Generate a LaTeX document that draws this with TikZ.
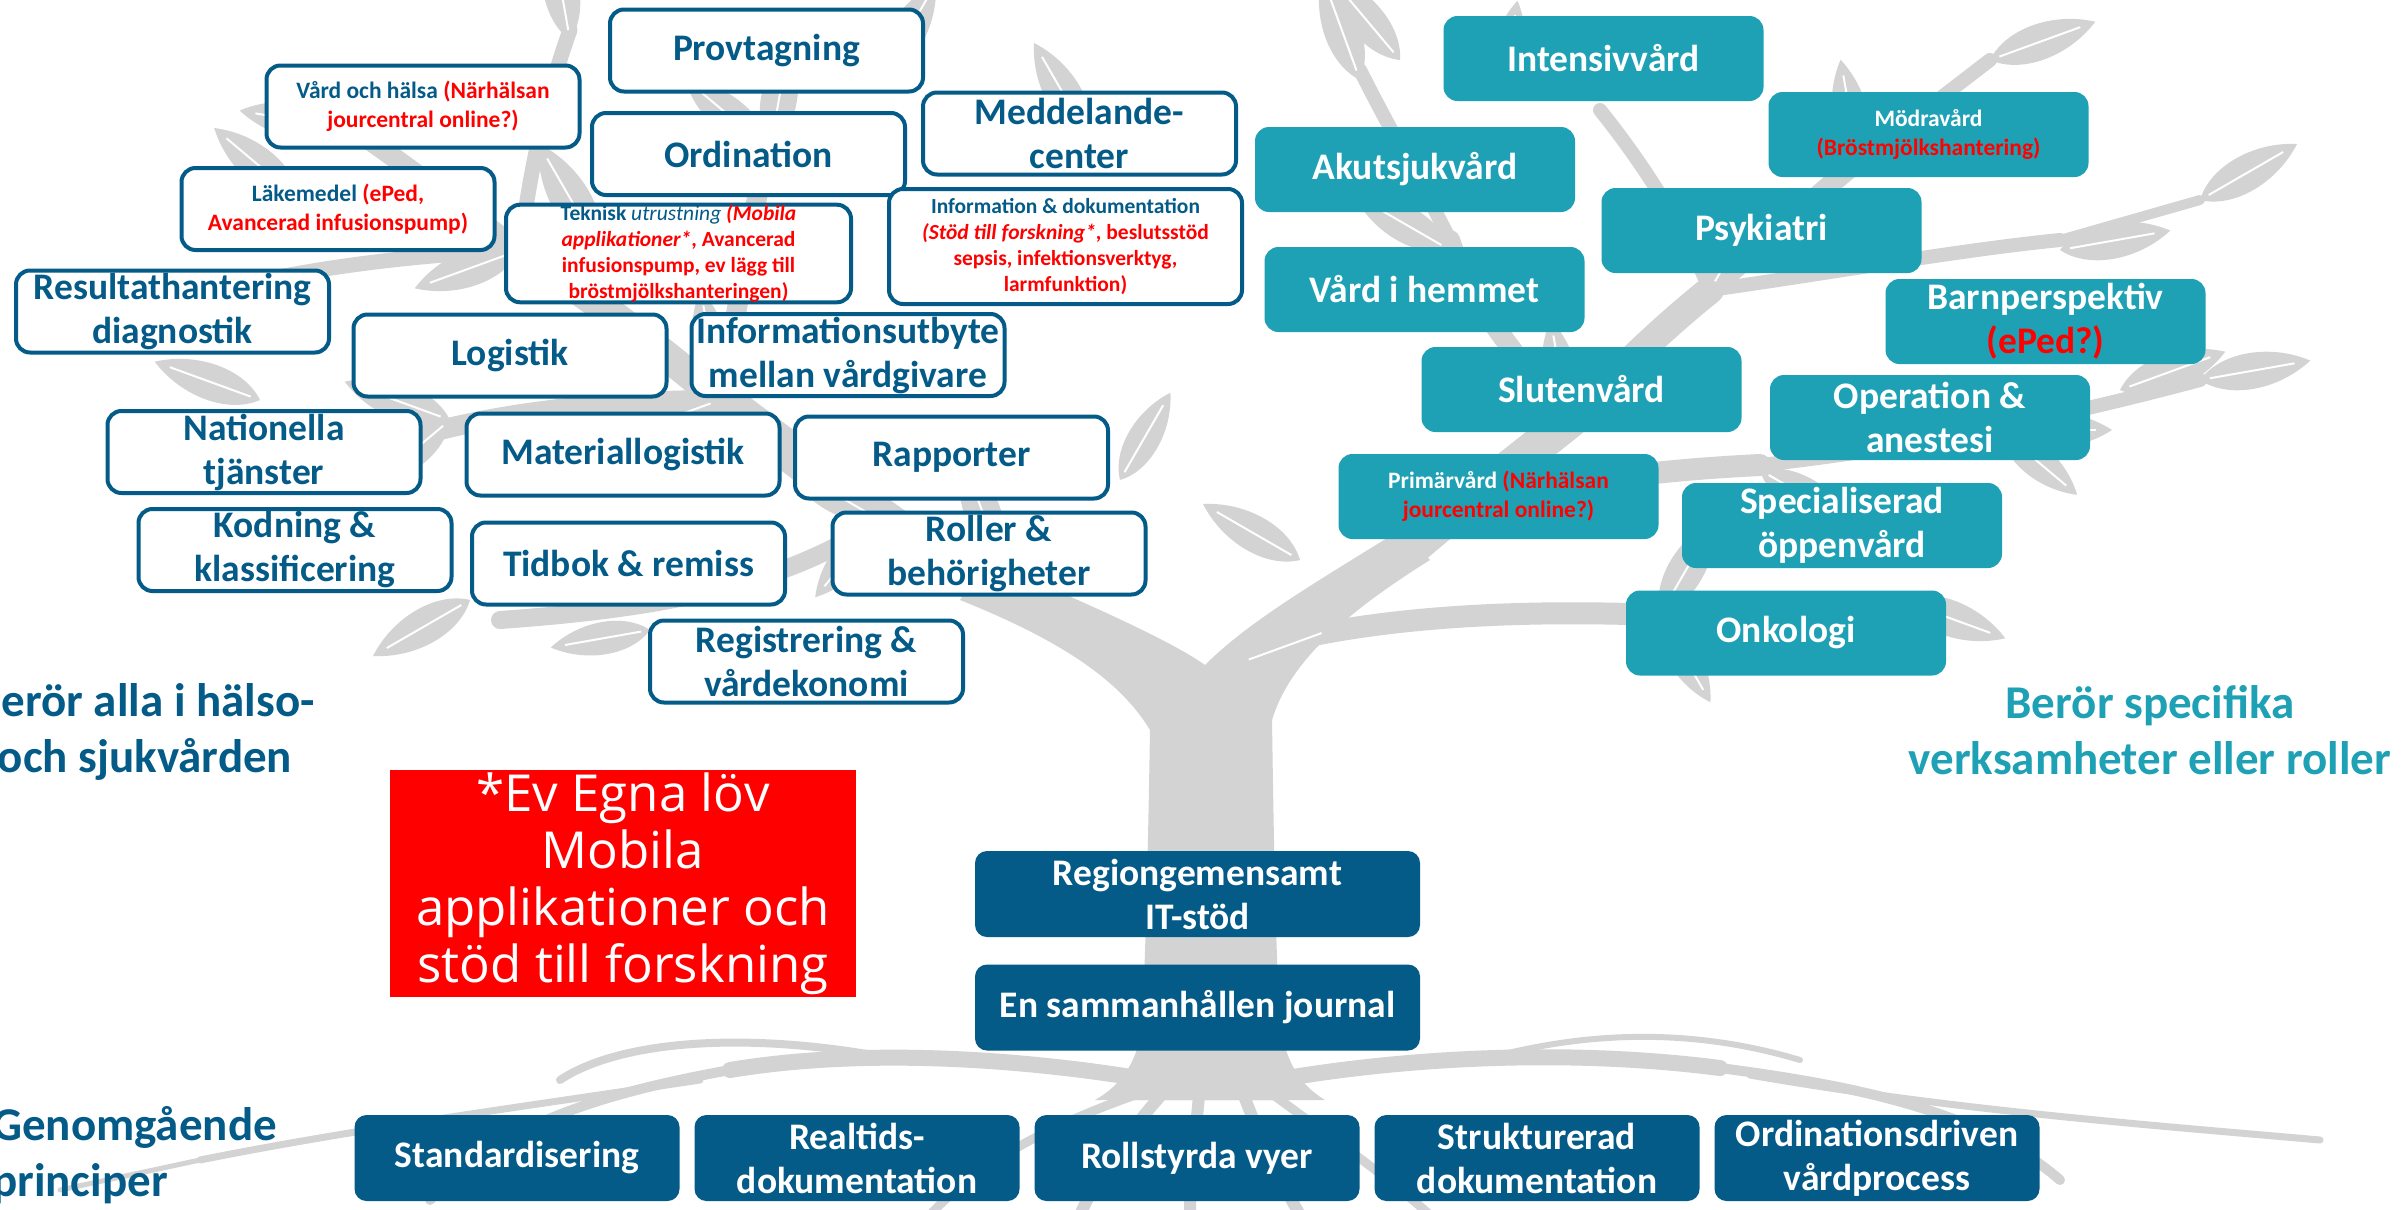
\documentclass[tikz,border=0pt]{standalone}
\usepackage{fontspec}
\setmainfont{Carlito}
\newfontfamily\lovfont{Open Sans}
\definecolor{rootblue}{HTML}{045B88}
\definecolor{bladteal}{HTML}{1FA1B5}
\definecolor{treegray}{HTML}{D3D3D3}

\begin{document}
\begin{tikzpicture}[x=1pt,y=-1pt]
      \tikzstyle{stam}=[draw=treegray,line cap=round,line join=round]
      \tikzstyle{gemensam}=[draw=rootblue,line width=4pt,fill=white,rounded corners=14pt,minimum width=313pt,minimum height=82pt,inner sep=0pt,align=center,text=rootblue,font=\bfseries\fontsize{37.5}{44}\selectfont]
      \tikzstyle{liten}=[font=\bfseries\fontsize{23.5}{29}\selectfont]
      \tikzstyle{minst}=[font=\bfseries\fontsize{21.5}{26}\selectfont]
      \tikzstyle{specifik}=[fill=bladteal,rounded corners=14pt,minimum width=320pt,minimum height=85pt,inner sep=0pt,align=center,text=white,font=\bfseries\fontsize{37.5}{44}\selectfont]
      \tikzstyle{princip}=[fill=rootblue,rounded corners=12pt,minimum width=325pt,minimum height=86pt,inner sep=0pt,align=center,text=white,font=\bfseries\fontsize{37.5}{44}\selectfont]
      \tikzstyle{rubrik}=[align=center,font=\bfseries\fontsize{47}{56}\selectfont]
      \tikzset{leaf/.pic={
        \fill[treegray] (0,0) .. controls (25,-24) and (75,-24) .. (112,0) .. controls (75,24) and (25,24) .. (0,0);
        \draw[white,line width=2pt] (10,0) -- (96,0);}}
      \useasboundingbox (0,0) rectangle (2407,1210);
      \fill[white] (0,0) rectangle (2407,1210);
      % tree: trunk and branches
      \fill[treegray] (1138,1100) .. controls (1145,1000) and (1148,850) .. (1150,730)
        .. controls (1120,680) and (1060,640) .. (960,600) -- (985,560)
        .. controls (1080,600) and (1170,640) .. (1205,665)
        .. controls (1250,620) and (1320,580) .. (1400,530) -- (1430,560)
        .. controls (1350,610) and (1290,660) .. (1272,720)
        .. controls (1274,850) and (1276,1000) .. (1285,1100) -- cycle;
      \fill[treegray] (1095,1100) .. controls (1130,1080) and (1142,1050) .. (1146,1000) -- (1276,1000)
        .. controls (1282,1050) and (1292,1080) .. (1325,1100) -- cycle;
      \draw[stam,line width=40pt] (972,580) .. controls (880,520) and (800,460) .. (720,400);
      \draw[stam,line width=30pt] (720,400) .. controls (650,340) and (580,290) .. (520,250);
      \draw[stam,line width=20pt] (520,250) .. controls (450,200) and (400,160) .. (340,120);
      \draw[stam,line width=20pt] (720,400) .. controls (620,400) and (520,410) .. (440,430);
      \draw[stam,line width=20pt] (720,400) .. controls (740,300) and (750,220) .. (770,140);
      \draw[stam,line width=15pt] (520,250) .. controls (420,255) and (330,265) .. (240,285);
      \draw[stam,line width=15pt] (520,250) .. controls (530,170) and (545,100) .. (570,30);
      \draw[stam,line width=18pt] (880,520) .. controls (780,590) and (640,610) .. (500,620);
      \draw[stam,line width=36pt] (1415,545) .. controls (1480,490) and (1520,460) .. (1570,420);
      \draw[stam,line width=28pt] (1570,420) .. controls (1620,370) and (1660,330) .. (1710,290);
      \draw[stam,line width=20pt] (1710,290) .. controls (1770,240) and (1810,200) .. (1860,160);
      \draw[stam,line width=14pt] (1860,160) -- (1990,60);
      \draw[stam,line width=22pt] (1290,640) .. controls (1400,615) and (1530,610) .. (1660,615);
      \draw[stam,line width=14pt] (1660,615) -- (1900,600);
      \draw[stam,line width=22pt] (1460,510) .. controls (1570,480) and (1660,470) .. (1760,465);
      \draw[stam,line width=14pt] (1760,465) .. controls (1900,450) and (2050,420) .. (2200,380);
      \draw[stam,line width=20pt] (1570,420) .. controls (1510,350) and (1470,300) .. (1450,240);
      \draw[stam,line width=14pt] (1450,240) .. controls (1420,180) and (1390,130) .. (1360,70);
      \draw[stam,line width=14pt] (1710,290) .. controls (1850,270) and (1960,250) .. (2060,240);
      \draw[stam,line width=10pt] (2060,240) -- (2200,200);
      \draw[stam,line width=14pt] (1710,290) .. controls (1680,220) and (1640,160) .. (1600,110);
      % leaves
      \foreach \lx/\ly/\la/\ls in {600/250/120/1.1, 520/250/200/1, 720/400/100/1, 720/400/200/1,
          450/420/160/1, 450/420/220/0.9, 300/200/140/1, 250/280/190/1, 770/150/80/1, 770/150/140/1,
          570/40/100/1, 880/520/150/1, 880/520/230/0.9, 1000/560/110/1, 350/130/170/1, 1090/140/120/1,
          260/400/160/1, 1120/480/60/0.9, 880/80/60/1, 470/600/210/1, 650/630/190/0.9, 1020/500/60/0.8,
          1400/60/130/1, 1500/100/80/0.9, 1710/290/60/1, 1860/170/30/1, 1860/170/100/1, 1990/60/20/1,
          2060/250/10/1, 2200/200/30/1, 2000/430/0/1, 2120/390/20/1, 2000/430/-40/0.9, 1900/600/-20/1,
          1660/615/60/1, 1660/615/-60/0.9, 1450/250/150/1, 1360/80/110/1, 1760/470/-30/1, 1570/430/100/1,
          1300/560/150/1, 1330/630/200/0.9, 2200/380/10/1}
        \pic[rotate=\la,scale=\ls] at (\lx,\ly) {leaf};
      % roots
      \draw[stam,line width=16pt] (1150,1080) .. controls (1000,1055) and (850,1050) .. (730,1070);
      \draw[stam,line width=10pt] (730,1070) .. controls (620,1090) and (500,1120) .. (430,1200);
      \draw[stam,line width=8pt] (900,1060) .. controls (750,1030) and (620,1040) .. (560,1080);
      \draw[stam,line width=7pt] (700,1080) .. controls (500,1110) and (350,1130) .. (200,1160);
      \draw[stam,line width=5pt] (200,1160) -- (60,1190);
      \draw[stam,line width=16pt] (1275,1080) .. controls (1420,1055) and (1580,1050) .. (1720,1068);
      \draw[stam,line width=10pt] (1720,1068) .. controls (1850,1085) and (1980,1110) .. (2060,1180);
      \draw[stam,line width=7pt] (1750,1075) .. controls (1950,1110) and (2150,1125) .. (2320,1140);
      \draw[stam,line width=6pt] (1500,1055) .. controls (1600,1030) and (1700,1030) .. (1800,1060);
      \draw[stam,line width=12pt] (1170,1085) .. controls (1130,1130) and (1100,1170) .. (1080,1215);
      \draw[stam,line width=12pt] (1200,1085) .. controls (1195,1140) and (1190,1180) .. (1190,1215);
      \draw[stam,line width=12pt] (1240,1085) .. controls (1260,1140) and (1280,1180) .. (1300,1215);
      \draw[stam,line width=9pt] (1260,1085) .. controls (1320,1130) and (1380,1170) .. (1430,1215);
      \draw[stam,line width=9pt] (1150,1090) .. controls (1060,1120) and (980,1160) .. (930,1215);
      % title cut at the top
      \node[anchor=base west,inner sep=0pt,font=\fontsize{55}{60}\selectfont] (topp) at (361,-10) {pp};
      % berör alla
      \node[gemensam] (prov) at (766.5,50.5) {Provtagning};
      \node[gemensam,liten] (vard) at (423,106.5) {Vård och hälsa \textcolor{red}{(Närhälsan}\\\textcolor{red}{jourcentral online?)}};
      \node[gemensam] (ord) at (748.5,154) {Ordination};
      \node[gemensam] (medd) at (1079.5,133.5) {Meddelande-\\center};
      \node[gemensam,liten] (lak) at (338,209) {Läkemedel \textcolor{red}{(ePed,}\\\textcolor{red}{Avancerad infusionspump)}};
      \node[gemensam,minst,minimum width=345pt,minimum height=95pt] (tekn) at (678.5,253.5)
        {Teknisk \textmd{\itshape utrustning} \textcolor{red}{\itshape (Mobila}\\\textcolor{red}{{\itshape applikationer*}, Avancerad}\\\textcolor{red}{infusionspump, ev lägg till}\\\textcolor{red}{bröstmjölkshanteringen)}};
      \node[gemensam,minst,minimum width=353pt,minimum height=115pt] (info) at (1065.5,246.5)
        {Information \& dokumentation\\\textcolor{red}{{\itshape (Stöd till forskning*}, beslutsstöd}\\\textcolor{red}{sepsis, infektionsverktyg,}\\\textcolor{red}{larmfunktion)}};
      \node[gemensam] (res) at (172.5,311.5) {Resultathantering\\diagnostik};
      \node[gemensam] (logi) at (510,355.5) {Logistik};
      \node[gemensam] (utby) at (848,355) {Informationsutbyte\\mellan vårdgivare};
      \node[gemensam] (nat) at (264,452) {Nationella\\tjänster};
      \node[gemensam] (mat) at (623,454.5) {Materiallogistik};
      \node[gemensam] (rapp) at (951.5,457.5) {Rapporter};
      \node[gemensam] (kod) at (295,550) {Kodning \&\\klassificering};
      \node[gemensam] (tid) at (628.5,563.5) {Tidbok \& remiss};
      \node[gemensam] (roll) at (989,553.5) {Roller \&\\behörigheter};
      \node[gemensam] (reg) at (806.5,661.5) {Registrering \&\\vårdekonomi};
      % berör specifika
      \node[specifik] (int) at (1603.5,58.5) {Intensivvård};
      \node[specifik,liten] (mod) at (1928.5,134.5) {Mödravård\\\textcolor{red}{(Bröstmjölkshantering)}};
      \node[specifik] (aku) at (1415,169.5) {Akutsjukvård};
      \node[specifik] (psy) at (1761.5,230.5) {Psykiatri};
      \node[specifik] (hem) at (1424.5,289.5) {Vård i hemmet};
      \node[specifik] (barn) at (2045.5,321.5) {Barnperspektiv\\\textcolor{red}{(ePed?)}};
      \node[specifik] (slu) at (1581.5,389.5) {Slutenvård};
      \node[specifik] (ope) at (1930,417.5) {Operation \&\\anestesi};
      \node[specifik,liten] (pri) at (1498.5,496.5) {Primärvård \textcolor{red}{(Närhälsan}\\\textcolor{red}{jourcentral online?)}};
      \node[specifik] (spe) at (1842,525.5) {Specialiserad\\öppenvård};
      \node[specifik] (onk) at (1786,633) {Onkologi};
      % headings
      \node[rubrik,text=rootblue] (alla) at (145,732) {Berör alla i hälso-\\och sjukvården};
      \node[rubrik,text=bladteal] (spec) at (2150,730) {Berör specifika\\verksamheter eller roller};
      \node[rubrik,text=rootblue,align=left,anchor=west,inner sep=0pt] (genom) at (-8,1155) {Genomgående\\principer};
      % egna löv
      \node[fill=red,minimum width=466pt,minimum height=227pt,inner sep=0pt,align=center,text=white,
        font=\lovfont\fontsize{51}{57}\selectfont] (lov) at (623,883.5) {*Ev Egna löv\\Mobila\\applikationer och\\stöd till forskning};
      % roots: it-stöd and principles
      \node[princip,minimum width=445pt] (regi) at (1197.5,894) {Regiongemensamt\\IT-stöd};
      \node[princip,minimum width=445pt] (jour) at (1197.5,1007.5) {En sammanhållen journal};
      \node[princip] (std) at (517,1158) {Standardisering};
      \node[princip] (rea) at (857,1158) {Realtids-\\dokumentation};
      \node[princip] (rol) at (1197,1158) {Rollstyrda vyer};
      \node[princip] (str) at (1537,1158) {Strukturerad\\dokumentation};
      \node[princip] (ordv) at (1877,1158) {Ordinationsdriven\\vårdprocess};
\end{tikzpicture}
\end{document}
